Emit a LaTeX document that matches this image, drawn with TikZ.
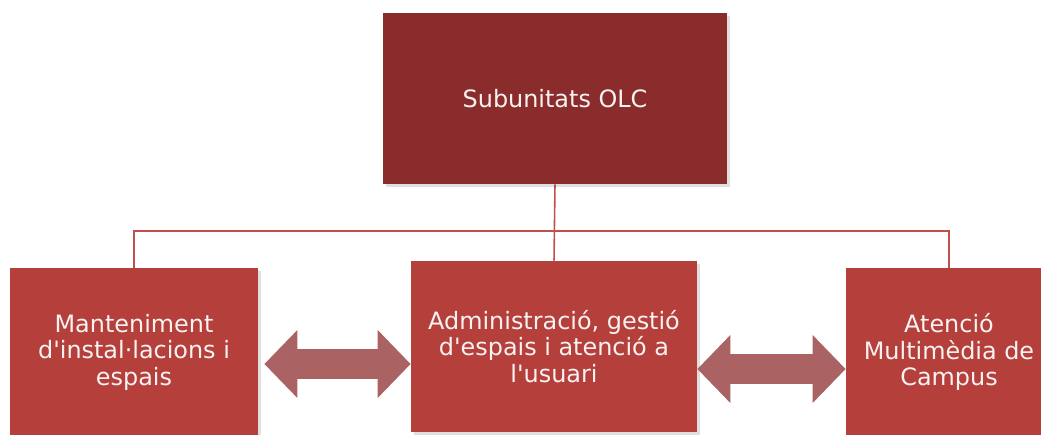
\documentclass[tikz,border=0pt]{standalone}
\usepackage{fontspec}
\setmainfont{DejaVu Sans}[Ligatures=TeXOff]
\usepackage{tikz}
\usetikzlibrary{arrows.meta, shadows}
\definecolor{topcolor}{RGB}{139,44,44}
\definecolor{boxcolor}{RGB}{181,64,59}
\definecolor{linecolor}{RGB}{192,80,77}
\definecolor{arrowcolor}{RGB}{170,98,98}
\definecolor{textcolor}{RGB}{248,242,242}

\begin{document}
\begin{tikzpicture}[
    unitbox/.style={rectangle, fill=boxcolor, text=textcolor, align=center,
        inner sep=0pt, font=\fontsize{13.6}{15.1}\selectfont,
        drop shadow={opacity=0.25, shadow xshift=0.05cm, shadow yshift=-0.06cm}},
    link/.style={draw=linecolor, line width=0.9pt},
    bigarrow/.style={draw=arrowcolor, line width=0.6cm,
        {Triangle[length=0.66cm, width=1.32cm]}-{Triangle[length=0.66cm, width=1.32cm]}}
]
    \useasboundingbox (0,0) rectangle (20.82,8.68);
    \clip (0,0) rectangle (20.82,8.68);

    % Top box
    \node[unitbox, fill=topcolor, minimum width=6.88cm, minimum height=3.42cm]
        (top) at (11.10,6.71) {Subunitats OLC};

    % Bottom boxes
    \node[unitbox, minimum width=4.96cm, minimum height=3.36cm] (left) at (2.68,1.64)
        {Manteniment\\d'instal·lacions i\\espais};
    \node[unitbox, minimum width=5.72cm, minimum height=3.42cm] (mid) at (11.08,1.75)
        {Administració, gestió\\d'espais i atenció a\\l'usuari};
    \node[unitbox, minimum width=4.12cm, minimum height=3.36cm] (right) at (18.98,1.64)
        {Atenció\\Multimèdia de\\Campus};

    % Tree connectors
    \coordinate (bus) at (0,4.06);
    \draw[link] (top.south) -- (mid.north);
    \draw[link] (top.south |- bus) -| (left.north);
    \draw[link] (top.south |- bus) -| (right.north);

    % Double arrows between the units
    \coordinate (arrowL) at (0,1.40);
    \coordinate (arrowR) at (0,1.30);
    \draw[bigarrow] ([xshift=0.12cm]left.east |- arrowL) -- (mid.west |- arrowL);
    \draw[bigarrow] (mid.east |- arrowR) -- (right.west |- arrowR);
\end{tikzpicture}
\end{document}
